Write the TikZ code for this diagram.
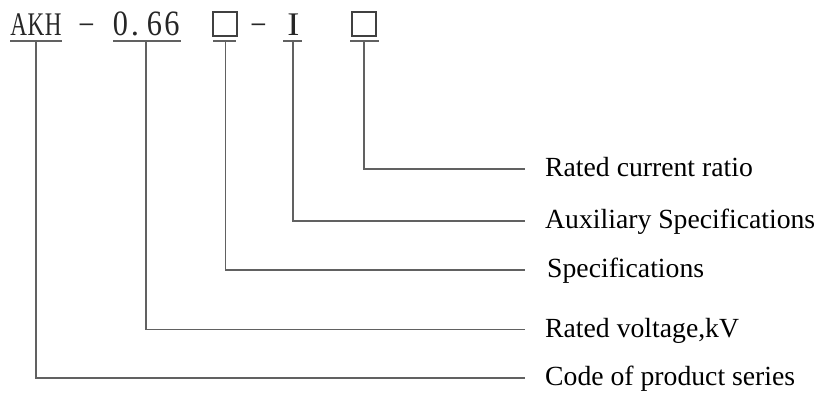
\documentclass[tikz,border=0pt]{standalone}
\usepackage{fontspec}
\setmainfont{Liberation Serif}
\begin{document}
\begin{tikzpicture}[x=1pt,y=-1pt,
  ln/.style={draw=black!62, line width=1.1pt},
  code/.style={inner sep=0pt, anchor=base, font=\fontsize{33}{36}\selectfont, text=black!85},
  lab/.style={inner sep=0pt, anchor=base west, font=\fontsize{27.7}{30}\selectfont, text=black},
  ubox/.style={draw=black!75, line width=1.1pt, minimum width=24pt, minimum height=24pt, inner sep=0pt}]
\useasboundingbox (0,0) rectangle (820,392);
% top code
\node[code] (cA) at (18.7,35) {\scalebox{0.7}[1]{A}};
\node[code] (cK) at (36,35) {\scalebox{0.7}[1]{K}};
\node[code] (cH) at (53.3,35) {\scalebox{0.7}[1]{H}};
\node[code] (d1) at (86.5,35) {\raisebox{3pt}{\scalebox{0.8}[1]{–}}};
\node[code] (c0) at (120.5,35) {\scalebox{0.92}[1.08]{0}};
\node[code] (cp) at (135,35) {.};
\node[code] (c6a) at (154.5,35) {\scalebox{0.92}[1.08]{6}};
\node[code] (c6b) at (172,35) {\scalebox{0.92}[1.08]{6}};
\node[ubox] (b1) at (225,24) {};
\node[code] (d2) at (258.5,35) {\raisebox{3pt}{\scalebox{0.8}[1]{–}}};
\node[code] (ii) at (293.5,35) {\scalebox{1.1}[1]{I}};
\node[ubox] (b2) at (364,24) {};
% underlines
\draw[ln] (10,41) -- (62,41);
\draw[ln] (113,41) -- (181,41);
\draw[ln] (213,41) -- (236,41);
\draw[ln] (283,41) -- (302,41);
\draw[ln] (350,41) -- (379,41);
% underline tap points
\coordinate (u1) at (36,41);
\coordinate (u2) at (146,41);
\coordinate (u3) at (225.5,41);
\coordinate (u4) at (293,41);
\coordinate (u5) at (364,41);
% line ends
\coordinate (e5) at (525,169);
\coordinate (e4) at (525,221);
\coordinate (e3) at (525,270);
\coordinate (e2) at (525,329.5);
\coordinate (e1) at (525,378);
% labels
\node[lab] (l5) at (545,176.5) {Rated current ratio};
\node[lab] (l4) at (545,228.5) {Auxiliary Specifications};
\node[lab] (l3) at (547,277.5) {Specifications};
\node[lab] (l2) at (545,337.5) {Rated voltage,kV};
\node[lab] (l1) at (545,385.5) {Code of product series};
% connectors
\draw[ln] (u5) |- (e5);
\draw[ln] (u4) |- (e4);
\draw[ln] (u3) |- (e3);
\draw[ln] (u2) |- (e2);
\draw[ln] (u1) |- (e1);
\end{tikzpicture}
\end{document}
